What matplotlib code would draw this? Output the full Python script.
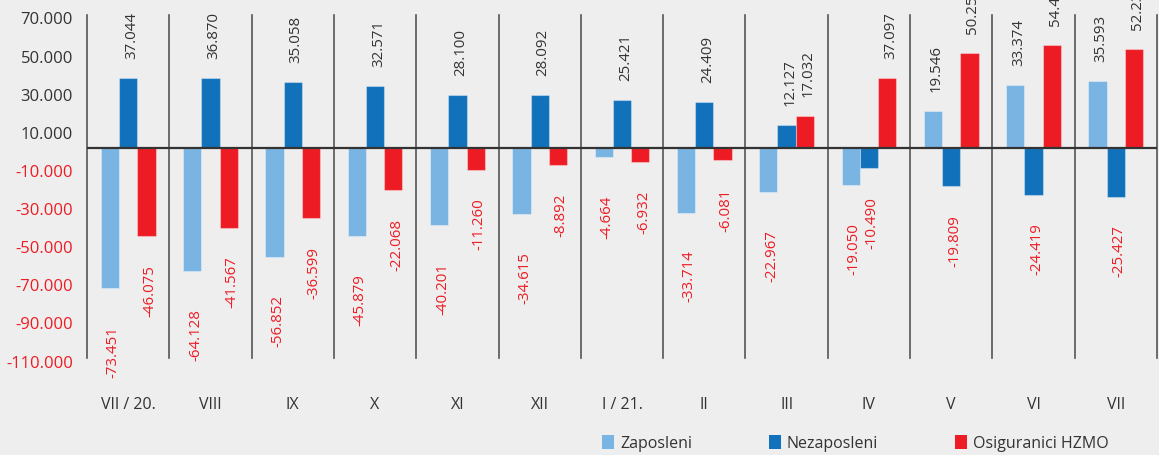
import matplotlib
matplotlib.use("Agg")
import matplotlib.pyplot as plt
import matplotlib.transforms as mtransforms
from matplotlib.patches import Patch
import numpy as np

plt.rcParams['font.family'] = ['Open Sans', 'DejaVu Sans']

# ---- data ----
months = ["VII / 20.", "VIII", "IX", "X", "XI", "XII", "I / 21.", "II", "III", "IV", "V", "VI", "VII"]
zaposleni = [-73451, -64128, -56852, -45879, -40201, -34615, -4664, -33714, -22967, -19050, 19546, 33374, 35593]
nezaposleni = [37044, 36870, 35058, 32571, 28100, 28092, 25421, 24409, 12127, -10490, -19809, -24419, -25427]
osigurani = [-46075, -41567, -36599, -22068, -11260, -8892, -6932, -6081, 17032, 37097, 50251, 54417, 52230]
series_names = ["Zaposleni", "Nezaposleni", "Osiguranici HZMO"]
yticks = [70000, 50000, 30000, 10000, -10000, -30000, -50000, -70000, -90000, -110000]

# ---- style ----
BG = "#eeeeee"
TXT = "#333333"
RED_TXT = "#ed1c24"
colors = ["#79b4e3", "#1172bb", "#ed1c24"]
neg_offsets = [20000, 15000, 15000]   # label gap below negative bars (data units)
pos_offset = 10000

def fmt(v):
    return f"{v:,}".replace(",", ".")

fig = plt.figure(figsize=(11.59, 4.55), dpi=100, facecolor=BG)
ax = fig.add_axes([87/1159, 1 - 358/455, (1157 - 87)/1159, (358 - 15)/455])
ax.set_facecolor(BG)

x = np.arange(len(months))
w = 0.222
all_series = [zaposleni, nezaposleni, osigurani]
for i, (vals, col) in enumerate(zip(all_series, colors)):
    xs = x + (i - 1) * w
    ax.bar(xs, vals, width=w, color=col, edgecolor=(1, 1, 1, 0.35), linewidth=0.8, zorder=3)
    for xi, v in zip(xs, vals):
        if v >= 0:
            ax.text(xi + 0.04, v + pos_offset, fmt(v), rotation=90, ha='center', va='bottom',
                    fontsize=10.8, color=TXT, clip_on=False)
        else:
            ax.text(xi + 0.04, v - neg_offsets[i], fmt(v), rotation=90, ha='center', va='top',
                    fontsize=10.8, color=RED_TXT, clip_on=False)

ax.set_xlim(-0.5, len(months) - 0.5)
ax.set_ylim(-110000, 70000)

# group dividers
for b in np.arange(-0.5, len(months), 1.0):
    ax.axvline(b, color="#555555", lw=1.2, zorder=2, clip_on=False)
ax.axhline(0, color="#333333", lw=1.6, zorder=4)

for s in ax.spines.values():
    s.set_visible(False)

ax.set_xticks(x)
ax.set_xticklabels(months, fontsize=11.5, color=TXT)
ax.tick_params(axis='x', length=0, pad=28)

ax.set_yticks(yticks)
ax.set_yticklabels([fmt(t) for t in yticks], fontsize=12)
ax.tick_params(axis='y', length=0, pad=10)
off = mtransforms.ScaledTranslation(0, -3.5/100, fig.dpi_scale_trans)
for lab, t in zip(ax.get_yticklabels(), yticks):
    lab.set_color(TXT if t > 0 else RED_TXT)
    lab.set_transform(lab.get_transform() + off)

handles = [Patch(facecolor=c, edgecolor='none') for c in colors]
fig.legend(handles, series_names, loc='center', bbox_to_anchor=(0.738, 0.025), ncol=3,
           frameon=False, fontsize=11.5, handlelength=0.78, handleheight=0.95,
           handletextpad=0.35, columnspacing=4.8, labelcolor=TXT)

fig.savefig("out.png", dpi=100, facecolor=BG)
